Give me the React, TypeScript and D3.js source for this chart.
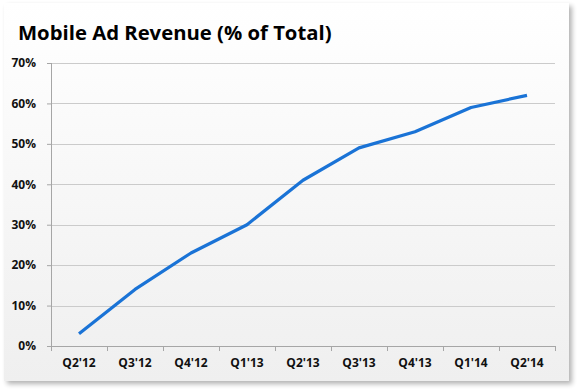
import React, { useRef, useEffect } from 'react';
import * as d3 from 'd3';

const quarters = ["Q2'12", "Q3'12", "Q4'12", "Q1'13", "Q2'13", "Q3'13", "Q4'13", "Q1'14", "Q2'14"];
const mobileShare = [3, 14, 23, 30, 41, 49, 53, 59, 62];
const yTicks = [0, 10, 20, 30, 40, 50, 60, 70];
const title = 'Mobile Ad Revenue (% of Total)';

const W = 580;
const H = 391;
const margin = { top: 63, right: 25, bottom: 45, left: 51 };

export default function App() {
  const gridEl = useRef<SVGGElement>(null);
  const xAxisEl = useRef<SVGGElement>(null);
  const yAxisEl = useRef<SVGGElement>(null);
  const lineEl = useRef<SVGGElement>(null);

  useEffect(() => {
    const chartW = W - margin.left - margin.right;
    const chartH = H - margin.top - margin.bottom;

    const x = d3.scaleBand<string>().domain(quarters).range([0, chartW]);
    const y = d3.scaleLinear().domain([0, 70]).range([chartH, 0]);

    const font = "'Open Sans', 'DejaVu Sans', sans-serif";

    // gridlines
    const grid = d3.select(gridEl.current);
    grid.selectAll('*').remove();
    grid
      .selectAll('line')
      .data(yTicks.filter((t) => t > 0))
      .enter()
      .append('line')
      .attr('x1', 0)
      .attr('x2', chartW)
      .attr('y1', (d) => Math.round(y(d)) + 0.5)
      .attr('y2', (d) => Math.round(y(d)) + 0.5)
      .attr('stroke', '#cbcbcb')
      .attr('stroke-width', 1);

    // y axis
    const yAx = d3.select(yAxisEl.current);
    yAx.selectAll('*').remove();
    yAx.call(
      d3
        .axisLeft(y)
        .tickValues(yTicks)
        .tickSize(4)
        .tickPadding(11)
        .tickFormat((d) => d + '%')
    );
    yAx.selectAll('path').attr('stroke', '#a6a6a6').attr('d', `M0.5,0V${chartH}`);
    yAx.selectAll('.tick line').attr('stroke', '#a6a6a6');
    yAx
      .selectAll('text')
      .attr('font-family', font)
      .attr('font-weight', 700)
      .attr('font-size', 12)
      .attr('fill', '#111');

    // x axis: ticks at band boundaries
    const xAx = d3.select(xAxisEl.current);
    xAx.selectAll('*').remove();
    xAx
      .append('line')
      .attr('x1', 0)
      .attr('x2', chartW)
      .attr('y1', 0.5)
      .attr('y2', 0.5)
      .attr('stroke', '#a6a6a6');
    const bounds = quarters.map((q) => x(q) as number).concat([chartW]);
    xAx
      .selectAll('line.tk')
      .data(bounds)
      .enter()
      .append('line')
      .attr('class', 'tk')
      .attr('x1', (d) => Math.round(d) + 0.5)
      .attr('x2', (d) => Math.round(d) + 0.5)
      .attr('y1', 0)
      .attr('y2', 5)
      .attr('stroke', '#a6a6a6');
    xAx
      .selectAll('text')
      .data(quarters)
      .enter()
      .append('text')
      .attr('x', (d) => (x(d) as number) + x.bandwidth() / 2)
      .attr('y', 21)
      .attr('text-anchor', 'middle')
      .attr('font-family', font)
      .attr('font-weight', 700)
      .attr('font-size', 12)
      .attr('fill', '#111')
      .text((d) => d);

    // line
    const line = d3
      .line<number>()
      .x((d, i) => (x(quarters[i]) as number) + x.bandwidth() / 2)
      .y((d) => y(d));
    const lg = d3.select(lineEl.current);
    lg.selectAll('*').remove();
    lg.append('path')
      .datum(mobileShare)
      .attr('d', line)
      .attr('fill', 'none')
      .attr('stroke', '#1a73d6')
      .attr('stroke-width', 3.2)
      .attr('stroke-linejoin', 'round');
  }, []);

  const chartH = H - margin.top - margin.bottom;

  return (
    <svg
      width={W}
      height={H}
      style={{ position: 'absolute', left: 0, top: 0 }}
    >
      <defs>
        <linearGradient id="bg" x1="0" y1="0" x2="0" y2="1">
          <stop offset="0%" stopColor="#ffffff" />
          <stop offset="100%" stopColor="#efefef" />
        </linearGradient>
        <filter id="shadow" x="-5%" y="-5%" width="112%" height="115%">
          <feGaussianBlur in="SourceAlpha" stdDeviation="2.5" />
          <feOffset dx="3" dy="3" result="b" />
          <feComponentTransfer>
            <feFuncA type="linear" slope="0.3" />
          </feComponentTransfer>
          <feMerge>
            <feMergeNode />
            <feMergeNode in="SourceGraphic" />
          </feMerge>
        </filter>
      </defs>
      <rect x={0} y={0} width={W} height={H} fill="#ffffff" />
      <rect x={4} y={3} width={565} height={378} fill="url(#bg)" filter="url(#shadow)" />
      <text
        x={18}
        y={40}
        fontFamily="'Open Sans', 'DejaVu Sans', sans-serif"
        fontWeight={700}
        fontSize={20.3}
        fill="#000"
      >
        {title}
      </text>
      <g ref={gridEl} transform={`translate(${margin.left}, ${margin.top})`} />
      <g ref={yAxisEl} transform={`translate(${margin.left}, ${margin.top})`} />
      <g ref={xAxisEl} transform={`translate(${margin.left}, ${margin.top + chartH})`} />
      <g ref={lineEl} transform={`translate(${margin.left}, ${margin.top})`} />
    </svg>
  );
}
